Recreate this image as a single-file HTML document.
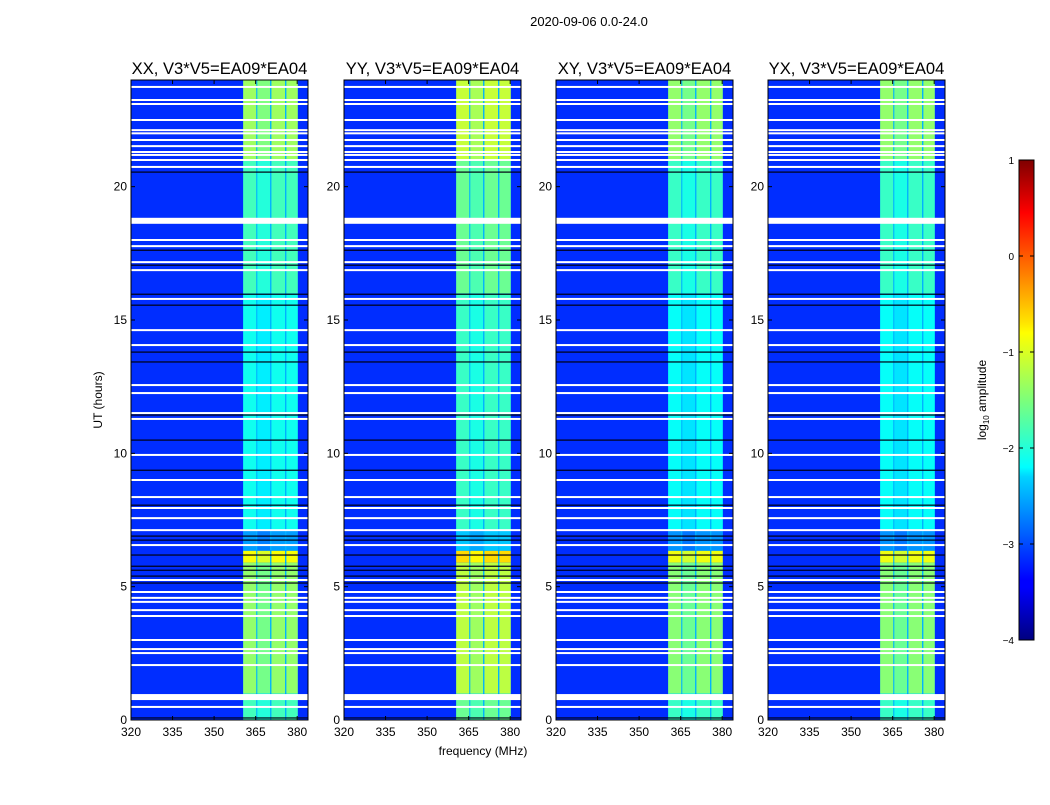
<!DOCTYPE html>
<html><head><meta charset="utf-8"><style>
body{margin:0;background:#fff;font-family:"Liberation Sans",sans-serif}
svg text{font-family:"Liberation Sans",sans-serif}
</style></head><body>
<svg id="c" width="1050" height="800">
<text x="589" y="26" font-size="13" text-anchor="middle">2020-09-06 0.0-24.0</text>
<text x="483" y="755" font-size="12" text-anchor="middle">frequency (MHz)</text>
<text x="102" y="400" font-size="12" text-anchor="middle" transform="rotate(-90 102 400)">UT (hours)</text>
<defs><linearGradient id="jet" x1="0" y1="1" x2="0" y2="0">
<stop offset="0" stop-color="#00007f"/><stop offset="0.11" stop-color="#0000ff"/><stop offset="0.125" stop-color="#0000ff"/><stop offset="0.34" stop-color="#00d4ff"/><stop offset="0.36" stop-color="#0ff"/><stop offset="0.5" stop-color="#7dff7a"/><stop offset="0.64" stop-color="#ff0"/><stop offset="0.66" stop-color="#ffe600"/><stop offset="0.89" stop-color="#ff0000"/><stop offset="1" stop-color="#7f0000"/></linearGradient></defs>
<rect x="1019" y="160" width="15" height="480" fill="url(#jet)" stroke="#000" stroke-width="1"/>
<text x="986" y="400" font-size="12" text-anchor="middle" transform="rotate(-90 986 400)">log<tspan font-size="8" dy="3">10</tspan><tspan dy="-3"> amplitude</tspan></text>
<g id="plots"></g>
</svg>
<script>
const panelTitles=["XX, V3*V5=EA09*EA04","YY, V3*V5=EA09*EA04","XY, V3*V5=EA09*EA04","YX, V3*V5=EA09*EA04"];
const panelLeft=[131,344,556,768];
const xTicks=[320,335,350,365,380];
const yTicks=[0,5,10,15,20];
const cbTicks=[1,0,-1,-2,-3,-4];
const bgAmp=-3.15;
const bandChannels=[[360.5,365.2],[365.6,370.2],[370.7,375.6],[376.1,380.2]];
const gapAmp=-2.5;
const timeSegStart=[0,1,5.9,6.35,7.1,16,21];
const timeSegEnd=[1,5.9,6.35,7.1,16,21,24];
const bandAmpXX=[-1.8,-1.4,-0.9,-2.6,-2.05,-1.8,-1.35];
const panelOffset=[0,0.2,-0.05,-0.05];
const whiteHours=[23.74,23.25,23.1,22.5,22.12,22.0,21.75,21.52,21.3,21.19,21.0,20.74,18.0,17.77,17.17,16.87,15.79,14.62,14.06,12.56,12.26,11.51,11.29,9.94,9.0,8.36,7.95,7.57,7.12,6.56,5.25,4.8,4.58,4.43,4.12,3.9,3.0,2.66,2.51,2.06,0.49];
const thickWhiteHours=[18.72,0.86];
const blackHours=[20.55,17.62,17.06,15.97,15.56,13.8,13.43,11.44,10.5,9.37,8.06,6.9,6.75,6.19,5.77,5.62,5.4,5.14,0.08];
const fMin=320,fMax=383.9,tMin=0,tMax=24,W=177,yTop=80,yBot=720;
function jet(v){let t=(v+4)/5;t=Math.max(0,Math.min(1,t));
 const r=Math.max(0,Math.min(1,1.5-Math.abs(4*t-3))),g=Math.max(0,Math.min(1,1.5-Math.abs(4*t-2))),b=Math.max(0,Math.min(1,1.5-Math.abs(4*t-1)));
 return `rgb(${r*255|0},${g*255|0},${b*255|0})`;}
const NS="http://www.w3.org/2000/svg";
const root=document.getElementById('plots');
function el(tag,attrs,parent){const e=document.createElementNS(NS,tag);for(const k in attrs)e.setAttribute(k,attrs[k]);(parent||root).appendChild(e);return e;}
const yS=h=>yBot-(h-tMin)/(tMax-tMin)*(yBot-yTop);
panelTitles.forEach((title,p)=>{
 const L=panelLeft[p];const xS=f=>L+(f-fMin)/(fMax-fMin)*W;
 const g=el('g',{});
 
 
 const bg=el('rect',{x:L,y:yTop,width:W,height:yBot-yTop,fill:jet(bgAmp)},g);
 
 
 timeSegStart.forEach((s,i)=>{
  const y0=yS(timeSegEnd[i]),y1=yS(s);
  const gap=el('rect',{x:xS(bandChannels[0][0]),y:y0,width:xS(bandChannels[3][1])-xS(bandChannels[0][0]),height:y1-y0,fill:jet(gapAmp)},g);
  
  
  bandChannels.forEach((c,j)=>{
   const v=bandAmpXX[i]+panelOffset[p]-(j===1?0.15:0);
   const r=el('rect',{x:xS(c[0]),y:y0,width:xS(c[1])-xS(c[0]),height:y1-y0,fill:jet(v)},g);
   
   
  });
 });
 whiteHours.forEach(h=>{const r=el('rect',{x:L,y:yS(h)-1,width:W,height:2,fill:'#fff'},g);
  
  });
 thickWhiteHours.forEach(h=>{const r=el('rect',{x:L,y:yS(h)-3,width:W,height:6,fill:'#fff'},g);
  
  });
 blackHours.forEach(h=>{const r=el('rect',{x:L,y:yS(h)-0.5,width:W,height:1.2,fill:'#001'},g);
  
  });
 const fr=el('rect',{x:L,y:yTop,width:W,height:yBot-yTop,fill:'none',stroke:'#000','stroke-width':1},g);
 
 
 const t=el('text',{x:L+W/2,y:74,'font-size':16.6,'text-anchor':'middle'},g);t.textContent=title;
 
 
 xTicks.forEach(f=>{const x=xS(f);
  el('line',{x1:x,x2:x,y1:yBot,y2:yBot-4,stroke:'#000'},g);el('line',{x1:x,x2:x,y1:yTop,y2:yTop+4,stroke:'#000'},g);
  const tx=el('text',{x:x,y:yBot+16,'font-size':12,'text-anchor':'middle'},g);tx.textContent=f;
  
  });
 yTicks.forEach(h=>{const y=yS(h);
  el('line',{x1:L,x2:L+4,y1:y,y2:y,stroke:'#000'},g);el('line',{x1:L+W,x2:L+W-4,y1:y,y2:y,stroke:'#000'},g);
  const ty=el('text',{x:L-4,y:y+4,'font-size':12,'text-anchor':'end'},g);ty.textContent=h;
  
  });
});
cbTicks.forEach(v=>{const y=160+(1-v)/5*480;
 el('line',{x1:1019,x2:1023,y1:y,y2:y,stroke:'#000'});el('line',{x1:1034,x2:1030,y1:y,y2:y,stroke:'#000'});
 const t=el('text',{x:1014,y:y+4,'font-size':10,'text-anchor':'end'});t.textContent=v<0?'\u2212'+(-v):v;
 
 });
</script>
</body></html>
